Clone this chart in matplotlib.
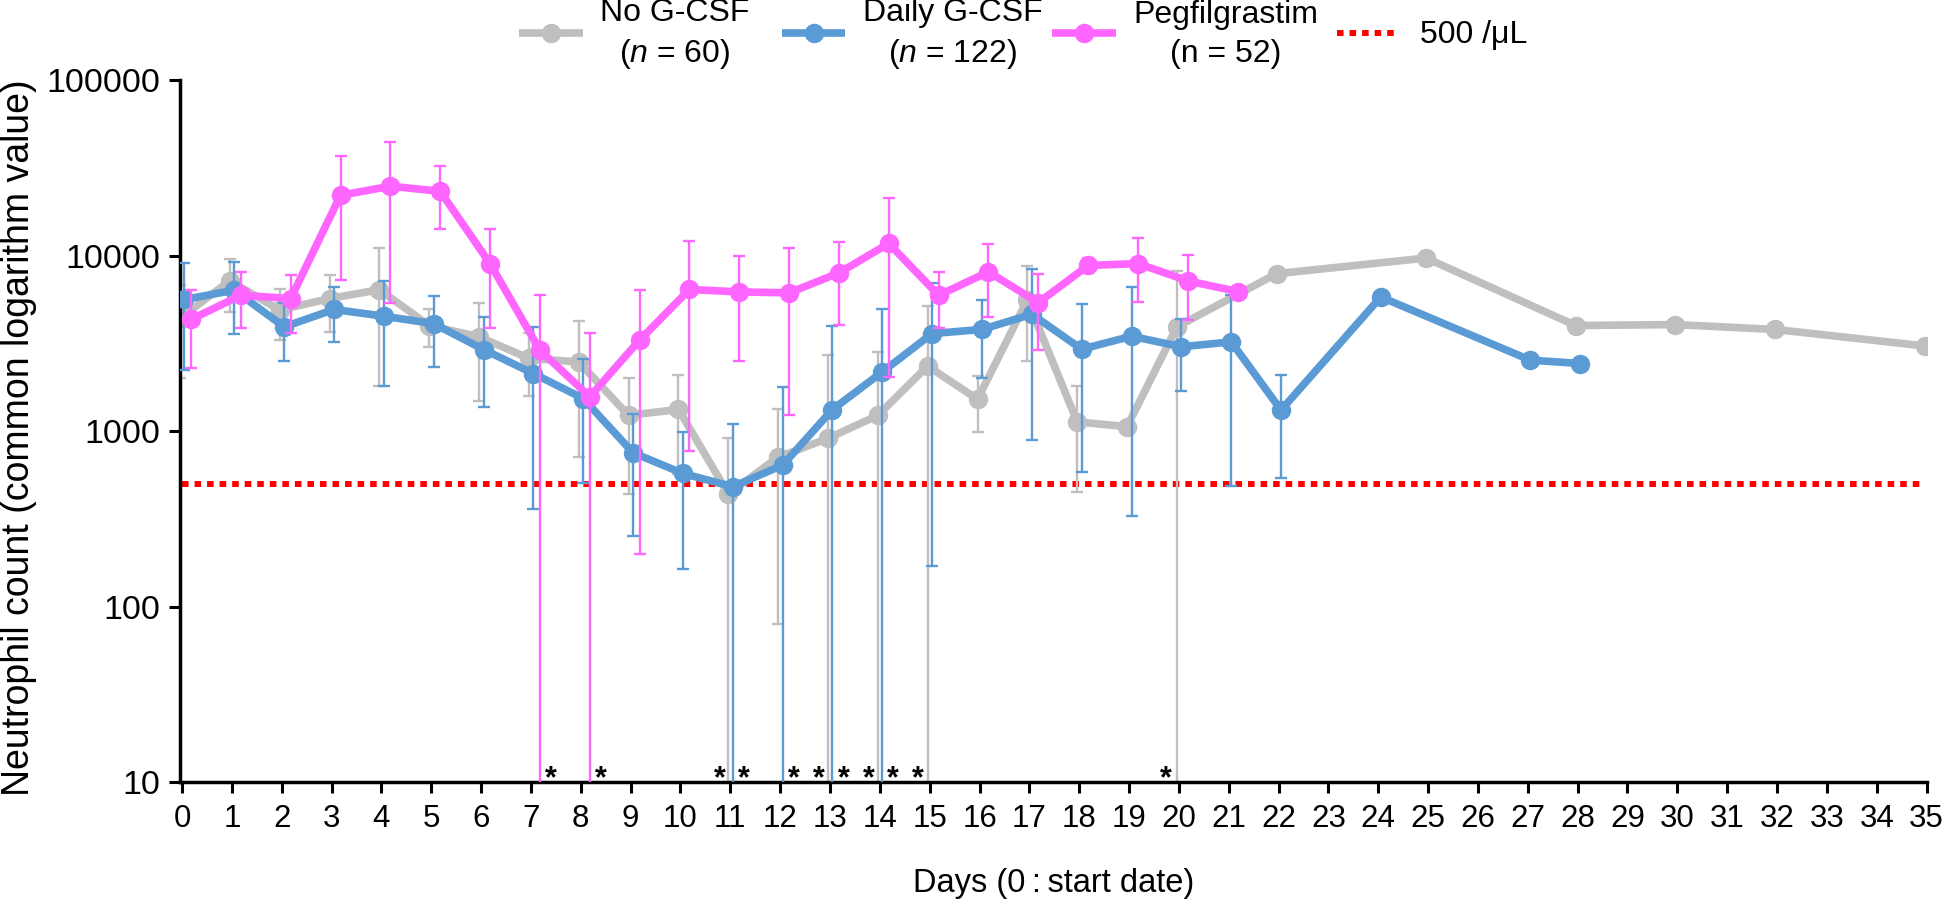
# Neutrophil count by day for three G-CSF groups (log scale)
import matplotlib
matplotlib.use('Agg')
import matplotlib.pyplot as plt
import matplotlib.transforms as mtransforms
from matplotlib.lines import Line2D
from matplotlib.ticker import FixedLocator, NullLocator
import numpy as np

plt.rcParams['font.family'] = ['Liberation Sans', 'DejaVu Sans']
plt.rcParams['mathtext.fontset'] = 'custom'
plt.rcParams['mathtext.rm'] = 'Liberation Sans'
plt.rcParams['mathtext.it'] = 'Liberation Sans:italic'

# No G-CSF
dias_sin = [0, 1, 2, 3, 4, 5, 6, 7, 8, 9, 10, 11, 12, 13, 14, 15, 16, 17, 18, 19, 20,
            22, 25, 28, 30, 32, 35]
media_sin = [4400, 7200, 4900, 5700, 6400, 4000, 3450, 2600, 2480, 1230, 1330, 440, 710,
             910, 1230, 2350, 1520, 5600, 1130, 1060, 3930, 7900, 9700, 4000, 4050, 3800, 3060]
sd_sin = [2400, 2400, 1600, 2030, 4600, 1000, 1960, 1015, 1770, 790, 760, 470, 630,
          1800, 1600, 2840, 530, 3100, 680, 0, 4300, 0, 0, 0, 0, 0, 0]

# Daily G-CSF
dias_diario = [0, 1, 2, 3, 4, 5, 6, 7, 8, 9, 10, 11, 12, 13, 14, 15, 16, 17, 18, 19, 20,
               21, 22, 24, 27, 28]
media_diario = [5630, 6360, 3930, 4940, 4520, 4100, 2920, 2130, 1535, 753, 574, 482, 640,
                1328, 2177, 3600, 3800, 4640, 2932, 3477, 3025, 3230, 1318, 5820, 2540, 2430]
sd_diario = [3400, 2790, 1420, 1735, 2700, 1790, 1545, 1770, 1030, 500, 410, 614, 1135,
             2650, 2760, 3430, 1800, 3750, 2350, 3150, 1320, 2740, 780, 0, 0, 0]

# Pegfilgrastim
dias_peg = list(range(22))
media_peg = [4330, 5950, 5700, 22100, 24900, 23300, 9020, 2895, 1570, 3300, 6420, 6220,
             6140, 7980, 11740, 5950, 8090, 5400, 8800, 9020, 7190, 6250]
sd_peg = [2035, 2100, 2070, 14800, 19500, 9050, 5150, 3055, 2060, 3100, 5650, 3700,
          4900, 3950, 9700, 2100, 3600, 2500, 850, 3600, 2880, 0]

umbral = 500
asteriscos = [7.4, 8.4, 10.78, 11.27, 12.28, 12.77, 13.28, 13.77, 14.26, 14.77, 19.73]

etiquetas_y = ['10', '100', '1000', '10000', '100000']
valores_y = [10, 100, 1000, 10000, 100000]

nombres = ['No G-CSF\n($n$ = 60)', 'Daily G-CSF\n($n$ = 122)', 'Pegfilgrastim\n(n = 52)',
           '500 /\u03bcL']

gris = '#BFBFBF'
azul = '#5B9BD5'
rosa = '#FF66FF'

W, H = 1946, 902
fig = plt.figure(figsize=(W / 100, H / 100), dpi=100)
ax = fig.add_axes([0.0925, 0.133, 0.8975, 0.778])


def dibujar_serie(dias, media, sd, desplazamiento, color, z):
    x = np.array(dias, float) + desplazamiento
    media = np.array(media, float)
    sd = np.array(sd, float)
    # si la media - SD es negativa, la barra baja hasta el eje
    abajo = np.where(media - sd > 0, sd, media - 1)
    ax.errorbar(x, media, yerr=[abajo, sd], fmt='none', ecolor=color,
                elinewidth=1.7, capsize=4.5, capthick=1.7, zorder=z)
    ax.plot(x, media, '-o', color=color, lw=5.5, ms=13, zorder=z + 0.5)


def entrada_leyenda(x0, x1, color, texto, xt, ha, punto=True, estilo='-', ancho=5.5):
    # posiciones en pixeles de la figura
    y = 1 - 33 / H
    fig.add_artist(Line2D([x0 / W, x1 / W], [y, y], transform=fig.transFigure, color=color,
                          lw=ancho, ls=estilo, solid_capstyle='butt', dash_capstyle='butt'))
    if punto:
        fig.add_artist(Line2D([(x0 + x1) / 2 / W], [y], transform=fig.transFigure,
                              marker='o', ms=13, color=color, ls='none'))
    fig.text(xt / W, 1 - 34.5 / H, texto, ha=ha, va='center', multialignment='center',
             fontsize=23, linespacing=1.35)


ax.hlines(umbral, 0, 34.9, colors='red', lw=4.3, linestyles=(0, (1.1, 1.0)),
          capstyle='butt', zorder=1)

dibujar_serie(dias_sin, media_sin, sd_sin, -0.04, gris, 2)
dibujar_serie(dias_diario, media_diario, sd_diario, 0.05, azul, 3)
dibujar_serie(dias_peg, media_peg, sd_peg, 0.18, rosa, 4)

trans = mtransforms.blended_transform_factory(ax.transData, ax.transAxes)
for xa in asteriscos:
    ax.text(xa, -0.008, '*', transform=trans, ha='center', va='baseline',
            fontsize=22, fontweight='bold', clip_on=False)

ax.set_yscale('log')
ax.set_ylim(10, 100000)
ax.set_xlim(-0.04, 35.0)
ax.yaxis.set_major_locator(FixedLocator(valores_y))
ax.yaxis.set_minor_locator(NullLocator())
ax.set_yticklabels(etiquetas_y)
ax.set_xticks(range(36))

ax.spines[['top', 'right']].set_visible(False)
ax.spines['left'].set_linewidth(2.5)
ax.spines['bottom'].set_linewidth(2.5)
ax.tick_params(axis='both', width=2.2, length=8)
ax.tick_params(axis='x', pad=8, labelsize=22.5)
ax.tick_params(axis='y', pad=6, labelsize=24.5)

ax.set_ylabel('Neutrophil count (common logarithm value)', fontsize=27)
ax.yaxis.set_label_coords(-0.082, 0.49)
ax.set_xlabel('Days (0\u2009:\u2009start date)', fontsize=23.5)
ax.xaxis.set_label_coords(0.5, -0.123)

# leyenda arriba, dibujada a mano
entrada_leyenda(519, 583, gris, nombres[0], 675, 'center')
entrada_leyenda(782, 845, azul, nombres[1], 953, 'center')
entrada_leyenda(1052, 1116, rosa, nombres[2], 1226, 'center')
entrada_leyenda(1337, 1399, 'red', nombres[3], 1420, 'left', punto=False,
                estilo=(0, (1.1, 1.0)), ancho=4.3)

fig.savefig('out.png', dpi=100)
